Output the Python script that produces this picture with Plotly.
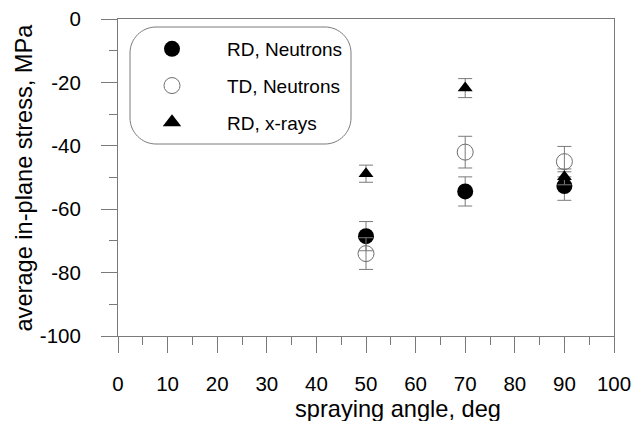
import plotly.graph_objects as go

angles = [50, 70, 90]
rd_neutrons = [-68.5, -54.4, -52.7]
rd_neutrons_err = [4.6, 4.6, 4.5]
td_neutrons = [-74.0, -42.0, -45.0]
td_neutrons_err = [5.0, 5.0, 4.8]
rd_xrays = [-48.8, -21.8, -49.8]
rd_xrays_err = [2.7, 3.0, 2.5]

series_names = ["RD, Neutrons", "TD, Neutrons", "RD, x-rays"]

x_tick_vals = [0, 10, 20, 30, 40, 50, 60, 70, 80, 90, 100]
x_tick_text = ["0", "10", "20", "30", "40", "50", "60", "70", "80", "90", "100"]
y_tick_vals = [0, -20, -40, -60, -80, -100]
y_tick_text = ["0", "-20", "-40", "-60", "-80", "-100"]

FONT = "Liberation Sans, Arial, sans-serif"
GRAY = "#7a7a7a"

# plot area in pixels
W, H = 636, 421
L, R, T, B = 118, 22, 19, 85
PW, PH = W - L - R, H - T - B

def px(x):
    return (x - L) / PW

def py(y):
    return (H - B - y) / PH

fig = go.Figure()

def err(v):
    return dict(type="data", array=v, visible=True, color=GRAY, thickness=1, width=7)

styles = [
    dict(symbol="circle", color="black", line=dict(width=0)),
    dict(symbol="circle-open", color="#6e6e6e", line=dict(width=1)),
    dict(symbol="triangle-up", color="black", line=dict(width=0)),
]
plot_sizes = [16, 16, 13]
legend_sizes = [22, 22, 16]
values = [rd_neutrons, td_neutrons, rd_xrays]
errors = [rd_neutrons_err, td_neutrons_err, rd_xrays_err]

for name, st, ps, vals, e in zip(series_names, styles, plot_sizes, values, errors):
    fig.add_trace(go.Scatter(
        x=angles, y=vals, mode="markers", name=name, showlegend=False,
        marker=dict(size=ps, **st), error_y=err(e)))

# legend-only entries (larger symbols, as in the original legend box)
for i, (name, st, ls) in enumerate(zip(series_names, styles, legend_sizes)):
    fig.add_trace(go.Scatter(
        x=[None], y=[None], mode="markers", name=name, showlegend=True,
        legendgroup=f"g{i}", marker=dict(size=ls, **st)))

# rounded legend frame (pixel geometry converted to paper units)
x0p, x1p, y0p, y1p, rad = 130, 351, 27, 144, 26
k = 0.45
path = (
    f"M {px(x0p+rad)},{py(y0p)} L {px(x1p-rad)},{py(y0p)} "
    f"C {px(x1p-rad*k)},{py(y0p)} {px(x1p)},{py(y0p+rad*k)} {px(x1p)},{py(y0p+rad)} "
    f"L {px(x1p)},{py(y1p-rad)} "
    f"C {px(x1p)},{py(y1p-rad*k)} {px(x1p-rad*k)},{py(y1p)} {px(x1p-rad)},{py(y1p)} "
    f"L {px(x0p+rad)},{py(y1p)} "
    f"C {px(x0p+rad*k)},{py(y1p)} {px(x0p)},{py(y1p-rad*k)} {px(x0p)},{py(y1p-rad)} "
    f"L {px(x0p)},{py(y0p+rad)} "
    f"C {px(x0p)},{py(y0p+rad*k)} {px(x0p+rad*k)},{py(y0p)} {px(x0p+rad)},{py(y0p)} Z"
)
fig.add_shape(type="path", path=path, xref="paper", yref="paper",
              line=dict(color=GRAY, width=1), fillcolor="rgba(0,0,0,0)", layer="below")

axis_common = dict(
    showline=True, linecolor=GRAY, linewidth=1, mirror=True,
    ticks="outside", tickcolor=GRAY, tickwidth=1, ticklen=16,
    showgrid=False, zeroline=False,
    tickfont=dict(family=FONT, size=20.5, color="black"),
)

fig.update_xaxes(
    range=[0, 100], tickmode="array", tickvals=x_tick_vals, ticktext=x_tick_text,
    minor=dict(ticks="outside", ticklen=8, dtick=5, tick0=0, tickcolor=GRAY, tickwidth=1, showgrid=False),
    ticklabelstandoff=13,
    **axis_common)
fig.update_yaxes(
    range=[-100, 0], tickmode="array", tickvals=y_tick_vals, ticktext=y_tick_text,
    minor=dict(ticks="outside", ticklen=8, dtick=10, tick0=0, tickcolor=GRAY, tickwidth=1, showgrid=False),
    ticklabelstandoff=16,
    **axis_common)

title_font = dict(family=FONT, size=23.6, color="black")
fig.add_annotation(text="spraying angle, deg", xref="paper", yref="paper",
                   x=px(398), y=py(409), xanchor="center", yanchor="middle",
                   showarrow=False, font=title_font)
fig.add_annotation(text="average in-plane stress, MPa", xref="paper", yref="paper",
                   x=px(23), y=0.5, xanchor="center", yanchor="middle", textangle=-90,
                   showarrow=False, font=title_font)

fig.update_layout(
    width=W, height=H,
    margin=dict(l=L, r=R, t=T, b=B, autoexpand=False),
    paper_bgcolor="white", plot_bgcolor="white",
    showlegend=True,
    legend=dict(
        x=px(117), y=py(30), xanchor="left", yanchor="top",
        bgcolor="rgba(0,0,0,0)", borderwidth=0,
        font=dict(family=FONT, size=19, color="black"),
        itemwidth=100, tracegroupgap=9, itemsizing="trace",
    ),
)

fig.write_html("out.html")
